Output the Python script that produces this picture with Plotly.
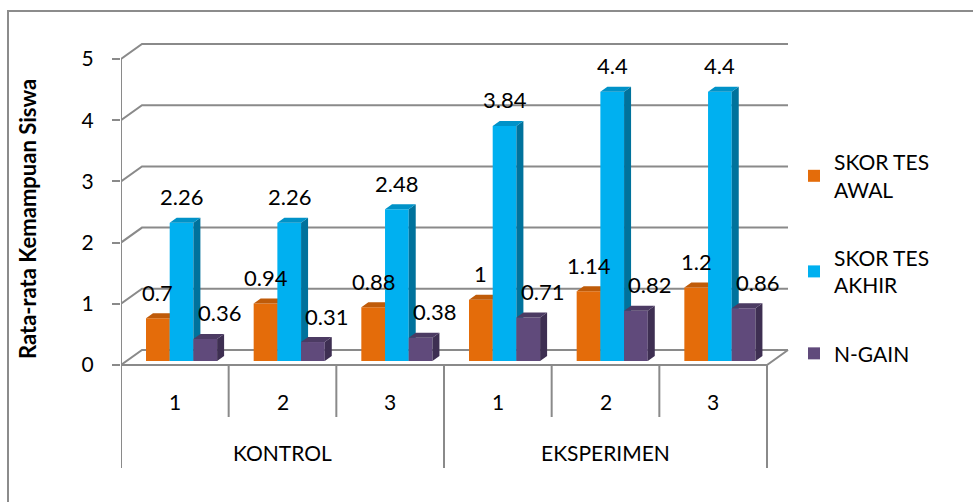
import plotly.graph_objects as go

# ---------------- data ----------------
groups = ["KONTROL", "EKSPERIMEN"]
sub_labels = ["1", "2", "3"]
series_names = ["SKOR TES<br>AWAL", "SKOR TES<br>AKHIR", "N-GAIN"]
skor_awal = [0.7, 0.94, 0.88, 1, 1.14, 1.2]
skor_akhir = [2.26, 2.26, 2.48, 3.84, 4.4, 4.4]
n_gain = [0.36, 0.31, 0.38, 0.71, 0.82, 0.86]
y_ticks = [0, 1, 2, 3, 4, 5]

# ---------------- style ----------------
FONT = "Lato"
GRID = "#8a8a8a"
front_cols = ["#E46C0A", "#00B0F0", "#604A7B"]
side_cols = ["#A34E08", "#00729C", "#3E2F52"]
top_cols = ["#BF5B09", "#0092C8", "#4C3B63"]
label_dx_px = [0, 0, 14]

W, H = 973, 502
L, R, T, B = 121, 790, 30, 480      # plot area in pixels
CW = 107.667                         # px per category
RH = 61.2                            # px per value unit
Y0 = 365                             # pixel row of value 0 (front)


def dxu(px):
    return px / CW


def dyu(px):
    return px / RH


def px_x(p):
    return (p - L) / (R - L)


def px_y(p):
    return (B - p) / (B - T)


WALL_DX, WALL_DY = dxu(21), dyu(15)
BAR_PX = 23.7
BAR_LEFT_PX = 25
BASE = dyu(4)
DEP_DX, DEP_DY = dxu(7), dyu(5)

series = [skor_awal, skor_akhir, n_gain]
ncat = len(skor_awal)
axes = ["x", "x2", "x3"]

fig = go.Figure()

for k, vals in enumerate(series):
    lefts = [i + dxu(BAR_LEFT_PX + BAR_PX * k) for i in range(ncat)]
    centers = [l + dxu(BAR_PX) / 2 for l in lefts]
    rights = [l + dxu(BAR_PX) for l in lefts]
    # front faces
    fig.add_trace(go.Bar(
        x=centers, y=vals, base=BASE, width=dxu(BAR_PX),
        marker=dict(color=front_cols[k], line=dict(width=0)),
        name=series_names[k], xaxis=axes[k], yaxis="y",
        legendgroup=f"g{k}", hoverinfo="skip",
    ))
    # side and top faces
    sx, sy = [], []
    tx, ty = [], []
    for l, r, v in zip(lefts, rights, vals):
        top = BASE + v
        sx += [r, r + DEP_DX, r + DEP_DX, r, r, None]
        sy += [BASE, BASE + DEP_DY, top + DEP_DY, top, BASE, None]
        tx += [l, r, r + DEP_DX, l + DEP_DX, l, None]
        ty += [top, top, top + DEP_DY, top + DEP_DY, top, None]
    fig.add_trace(go.Scatter(x=sx, y=sy, mode="none", fill="toself",
                             fillcolor=side_cols[k], showlegend=False,
                             legendgroup=f"g{k}",
                             xaxis=axes[k], yaxis="y", hoverinfo="skip"))
    fig.add_trace(go.Scatter(x=tx, y=ty, mode="none", fill="toself",
                             fillcolor=top_cols[k], showlegend=False,
                             legendgroup=f"g{k}",
                             xaxis=axes[k], yaxis="y", hoverinfo="skip"))

# data labels
annotations = []
for k, vals in enumerate(series):
    for i, v in enumerate(vals):
        cx = i + dxu(BAR_LEFT_PX + BAR_PX * k + BAR_PX / 2 + label_dx_px[k])
        annotations.append(dict(
            x=cx, y=BASE + v + dyu(26), xref="x", yref="y",
            text=f"{v:g}", showarrow=False,
            font=dict(family=FONT, size=22, color="#000000"),
            xanchor="center", yanchor="middle",
        ))

# category labels
for gi, g in enumerate(groups):
    for si, s in enumerate(sub_labels):
        annotations.append(dict(
            x=gi * 3 + si + 0.5, y=-dyu(401 - Y0), xref="x", yref="y",
            text=s, showarrow=False,
            font=dict(family=FONT, size=21, color="#000000"),
            xanchor="center", yanchor="middle"))
    annotations.append(dict(
        x=gi * 3 + 1.5, y=-dyu(452 - Y0), xref="x", yref="y",
        text=g, showarrow=False,
        font=dict(family=FONT, size=21, color="#000000"),
        xanchor="center", yanchor="middle"))

# y axis title
annotations.append(dict(
    x=px_x(27), y=dyu(Y0 - 219), xref="paper", yref="y",
    text="<b>Rata-rata Kemampuan Siswa</b>", textangle=-90, showarrow=False,
    font=dict(family=FONT, size=22, color="#000000"),
    xanchor="center", yanchor="middle"))

shapes = []
line = dict(color=GRID, width=2)
# gridlines on side wall + back wall
for v in y_ticks:
    shapes.append(dict(
        type="path", xref="x", yref="y", layer="below",
        path=f"M 0,{v} L {WALL_DX},{v + WALL_DY} L {ncat + WALL_DX},{v + WALL_DY}",
        line=line))
# floor front edge + right diagonal
shapes.append(dict(type="path", xref="x", yref="y", layer="below",
                   path=f"M 0,0 L {ncat},0 L {ncat + WALL_DX},{WALL_DY}",
                   line=line))
# vertical axis line and dividers
shapes.append(dict(type="line", xref="x", yref="y", layer="below",
                   x0=0, x1=0, y0=y_ticks[-1], y1=-dyu(468 - Y0), line=line))
for xv in [3, 6]:
    shapes.append(dict(type="line", xref="x", yref="y", layer="below",
                       x0=xv, x1=xv, y0=0, y1=-dyu(468 - Y0), line=line))
for xv in [1, 2, 4, 5]:
    shapes.append(dict(type="line", xref="x", yref="y", layer="below",
                       x0=xv, x1=xv, y0=0, y1=-dyu(417 - Y0), line=line))
# outer frame (left + top)
shapes.append(dict(type="path", xref="paper", yref="paper", layer="below",
                   path=f"M {px_x(8)},{px_y(520)} L {px_x(8)},{px_y(11)} L {px_x(990)},{px_y(11)}",
                   line=dict(color="#8c8c8c", width=2)))

xr = [0, (R - L) / CW]
yr = [-(B - Y0) / RH, (Y0 - T) / RH]
ax_common = dict(range=xr, visible=False, fixedrange=True)

fig.update_layout(
    width=W, height=H,
    margin=dict(l=L, r=W - R, t=T, b=H - B, pad=0),
    paper_bgcolor="white", plot_bgcolor="rgba(0,0,0,0)",
    barmode="overlay",
    xaxis=dict(**ax_common),
    xaxis2=dict(**ax_common, overlaying="x"),
    xaxis3=dict(**ax_common, overlaying="x"),
    yaxis=dict(range=yr, tickvals=y_ticks, ticktext=[str(t) for t in y_ticks],
               ticks="outside", ticklen=8, tickwidth=2, tickcolor=GRID,
               showgrid=False, zeroline=False, showline=False,
               ticklabelstandoff=14,
               tickfont=dict(family=FONT, size=21, color="#000000")),
    showlegend=True,
    legend=dict(x=px_x(794), y=px_y(142), xanchor="left", yanchor="top",
                font=dict(family=FONT, size=21, color="#000000"),
                traceorder="grouped", tracegroupgap=38,
                bgcolor="rgba(0,0,0,0)"),
    annotations=annotations,
    shapes=shapes,
)

fig.write_html("out.html")
